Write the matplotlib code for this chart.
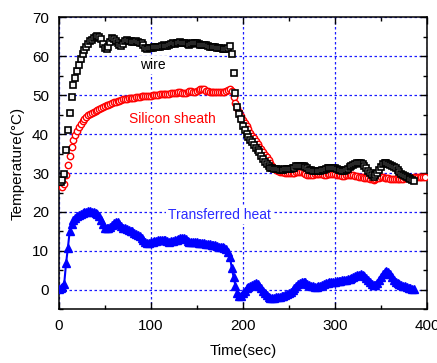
import matplotlib
matplotlib.use("Agg")
import matplotlib.pyplot as plt
from matplotlib.ticker import MultipleLocator, FixedLocator

# sampling times (s), one reading every 2 s
time_s = list(range(0, 400, 2))

# wire temperature, t = 0..386 s
wire = [
    27.6, 27.8, 28.3, 29.8, 36.0, 41.0, 45.3, 49.5, 52.5, 54.5,
    56.3, 57.8, 59.2, 60.5, 61.5, 62.5, 63.2, 63.8, 64.3, 64.8,
    65.0, 65.1, 65.0, 64.4, 63.2, 62.2, 61.8, 62.4, 63.6, 64.6,
    64.5, 64.0, 63.3, 62.8, 62.6, 63.2, 63.9, 64.2, 64.0, 63.8,
    63.6, 63.7, 63.8, 63.6, 63.5, 63.3, 62.8, 62.2, 61.9, 62.0,
    62.1, 62.2, 62.3, 62.4, 62.3, 62.5, 62.7, 62.8, 62.7, 62.6,
    62.9, 63.1, 63.3, 63.2, 63.4, 63.5, 63.6, 63.5, 63.5, 63.3,
    63.1, 63.0, 63.2, 63.4, 63.5, 63.3, 63.1, 62.9, 62.9, 63.0,
    62.8, 62.6, 62.5, 62.5, 62.4, 62.3, 62.2, 62.1, 62.0, 61.9,
    61.8, 61.9, 62.2, 62.6, 60.5, 55.8, 50.5, 47.0, 45.2, 43.8,
    42.2, 41.0, 40.0, 39.2, 38.6, 38.0, 37.2, 36.5, 35.9, 35.3,
    34.5, 33.6, 32.8, 32.2, 31.7, 31.4, 31.2, 31.1, 31.0, 31.0,
    30.9, 30.9, 30.9, 31.0, 31.0, 31.0, 31.1, 31.2, 31.4, 31.7,
    31.9, 31.9, 31.8, 31.7, 31.5, 31.2, 30.9, 30.7, 30.5, 30.4,
    30.4, 30.4, 30.5, 30.7, 30.9, 31.1, 31.3, 31.3, 31.3, 31.3,
    31.2, 31.1, 30.9, 30.7, 30.5, 30.5, 30.7, 31.1, 31.5, 31.8,
    32.1, 32.3, 32.5, 32.6, 32.5, 32.3, 31.8, 31.2, 30.5, 29.9,
    29.4, 29.1, 29.4, 30.0, 30.8, 31.6, 32.2, 32.6, 32.6, 32.4,
    32.1, 31.8, 31.5, 31.2, 30.7, 30.2, 29.8, 29.5, 29.3, 29.1,
    28.8, 28.5, 28.2, 28.0,
]

# silicon sheath temperature, t = 0..398 s
sheath = [
    28.0, 27.3, 26.5, 27.3, 29.5, 32.0, 34.5, 36.8, 38.5, 39.8,
    40.9, 41.8, 42.6, 43.3, 43.9, 44.4, 44.8, 45.2, 45.5, 45.8,
    46.0, 46.3, 46.5, 46.8, 47.0, 47.2, 47.4, 47.6, 47.8, 48.0,
    48.2, 48.3, 48.5, 48.6, 48.8, 48.9, 49.0, 49.1, 49.2, 49.3,
    49.4, 49.4, 49.5, 49.6, 49.6, 49.7, 49.7, 49.8, 49.8, 49.9,
    49.9, 50.0, 50.0, 50.1, 50.1, 50.2, 50.2, 50.3, 50.3, 50.4,
    50.4, 50.5, 50.5, 50.6, 50.6, 50.7, 50.7, 50.6, 50.5, 50.6,
    50.8, 51.0, 51.0, 50.9, 50.8, 51.0, 51.3, 51.6, 51.7, 51.5,
    51.2, 51.0, 50.9, 50.8, 50.8, 50.8, 50.7, 50.7, 50.8, 50.8,
    50.9, 51.0, 51.3, 51.7, 51.0, 49.5, 48.0, 46.8, 45.7, 44.7,
    43.7, 42.8, 42.0, 41.2, 40.4, 39.6, 38.9, 38.2, 37.5, 36.8,
    36.1, 35.4, 34.7, 34.0, 33.3, 32.6, 31.9, 31.2, 30.7, 30.4,
    30.2, 30.2, 30.2, 30.1, 30.1, 30.0, 30.0, 30.0, 30.1, 30.2,
    30.3, 30.3, 30.2, 30.0, 29.8, 29.6, 29.5, 29.5, 29.6, 29.7,
    29.8, 29.8, 29.8, 29.7, 29.6, 29.6, 29.7, 29.8, 29.8, 29.8,
    29.7, 29.6, 29.5, 29.4, 29.3, 29.3, 29.4, 29.5, 29.6, 29.5,
    29.4, 29.3, 29.2, 29.1, 29.0, 28.9, 28.8, 28.7, 28.6, 28.5,
    28.4, 28.3, 28.4, 28.6, 28.8, 28.9, 28.9, 28.8, 28.7, 28.6,
    28.5, 28.5, 28.5, 28.5, 28.4, 28.4, 28.4, 28.5, 28.6, 28.7,
    28.8, 28.8, 28.8, 28.9, 29.0, 29.0, 29.0, 29.0, 29.0, 29.0,
]

# transferred heat, t = 0..386 s
heat = [
    0.3, 0.4, 0.8, 1.6, 6.8, 10.8, 15.2, 17.0, 18.0, 18.5,
    18.9, 19.2, 19.5, 19.8, 20.0, 20.1, 20.2, 20.2, 20.1, 20.0,
    19.8, 19.4, 18.9, 18.0, 16.8, 16.0, 15.8, 15.8, 16.1, 16.6,
    17.1, 17.4, 17.3, 16.8, 16.3, 16.0, 15.8, 15.6, 15.4, 15.2,
    15.0, 14.7, 14.4, 14.1, 13.8, 13.3, 12.8, 12.3, 12.0, 12.1,
    12.3, 12.4, 12.5, 12.6, 12.7, 12.7, 12.8, 12.8, 12.7, 12.5,
    12.4, 12.5, 12.6, 12.7, 12.9, 13.1, 13.3, 13.4, 13.3, 13.0,
    12.6, 12.3, 12.2, 12.3, 12.3, 12.2, 12.1, 12.0, 12.0, 12.0,
    11.9, 11.8, 11.7, 11.6, 11.5, 11.4, 11.2, 11.1, 11.0, 10.9,
    10.8, 10.5, 9.8, 8.5, 5.5, 3.2, 1.0, -0.8, -1.7, -1.5,
    -0.9, -0.2, 0.4, 0.8, 1.1, 1.3, 1.6, 1.7, 1.5, 1.0,
    0.4, -0.3, -0.9, -1.4, -1.8, -2.1, -2.1, -2.0, -1.9, -1.8,
    -1.8, -1.7, -1.5, -1.3, -1.0, -0.8, -0.5, -0.1, 0.4, 0.9,
    1.4, 1.8, 2.1, 2.1, 1.9, 1.6, 1.3, 1.0, 0.9, 0.8,
    0.8, 0.9, 1.1, 1.3, 1.5, 1.7, 1.8, 1.9, 2.0, 2.1,
    2.1, 2.2, 2.3, 2.4, 2.5, 2.5, 2.6, 2.7, 2.9, 3.1,
    3.3, 3.5, 3.7, 3.9, 4.0, 3.9, 3.6, 3.1, 2.5, 1.9,
    1.4, 1.2, 1.3, 1.8, 2.6, 3.4, 4.1, 4.6, 4.8, 4.6,
    4.0, 3.2, 2.5, 2.0, 1.7, 1.4, 1.2, 1.0, 0.9, 0.8,
    0.6, 0.5, 0.3, 0.1,
]

x_ticks = [0, 100, 200, 300, 400]
y_ticks = [0, 10, 20, 30, 40, 50, 60, 70]

plt.rcParams["font.family"] = ["Liberation Sans", "DejaVu Sans"]

fig = plt.figure(figsize=(4.37, 3.63), dpi=100)
ax = fig.add_axes([0.1343, 0.1479, 0.8428, 0.8044])

ax.plot(time_s[:len(sheath)], sheath, linestyle="none", marker="o",
        markersize=4.6, markerfacecolor="white", markeredgecolor="#ff0000",
        markeredgewidth=1.0, zorder=3)
ax.plot(time_s[:len(wire)], wire, linestyle="none", marker="s",
        markersize=4.2, markerfacecolor="#f4f4f4", markeredgecolor="black",
        markeredgewidth=1.2, zorder=4)
ax.plot(time_s[:len(heat)], heat, color="#0000ff", linewidth=1.5,
        marker="^", markersize=6, markerfacecolor="#0000ff",
        markeredgecolor="#0000ff", zorder=3)

ax.text(102, 57.8, "wire", color="black", fontsize=10, ha="center",
        va="center", zorder=5,
        bbox=dict(facecolor="white", edgecolor="none", pad=1.5))
ax.text(124, 44, "Silicon sheath", color="#ff0000", fontsize=10,
        ha="center", va="center", zorder=5,
        bbox=dict(facecolor="white", edgecolor="none", pad=1.5))
ax.text(175, 19.2, "Transferred heat", color="#2a2aff", fontsize=10,
        ha="center", va="center", zorder=5,
        bbox=dict(facecolor="white", edgecolor="none", pad=1.5))

ax.set_xlim(0, 400)
ax.set_ylim(-5, 70)
ax.xaxis.set_major_locator(FixedLocator(x_ticks))
ax.yaxis.set_major_locator(FixedLocator(y_ticks))
ax.xaxis.set_minor_locator(MultipleLocator(50))
ax.yaxis.set_minor_locator(MultipleLocator(5))
ax.tick_params(which="both", direction="in", top=True, right=True,
               labelsize=11, width=1)
ax.tick_params(which="major", length=5, pad=7)
ax.tick_params(which="minor", length=3)

ax.grid(True, which="major", color="#1a1aff", linestyle=(0, (2, 2)),
        linewidth=0.9)
ax.set_axisbelow(True)
for sp in ax.spines.values():
    sp.set_linewidth(1.1)

ax.set_xlabel("Time(sec)", fontsize=11, labelpad=8)
ax.set_ylabel("Temperature(\u00b0C)", fontsize=11, labelpad=5)

fig.savefig("out.png", dpi=100)
